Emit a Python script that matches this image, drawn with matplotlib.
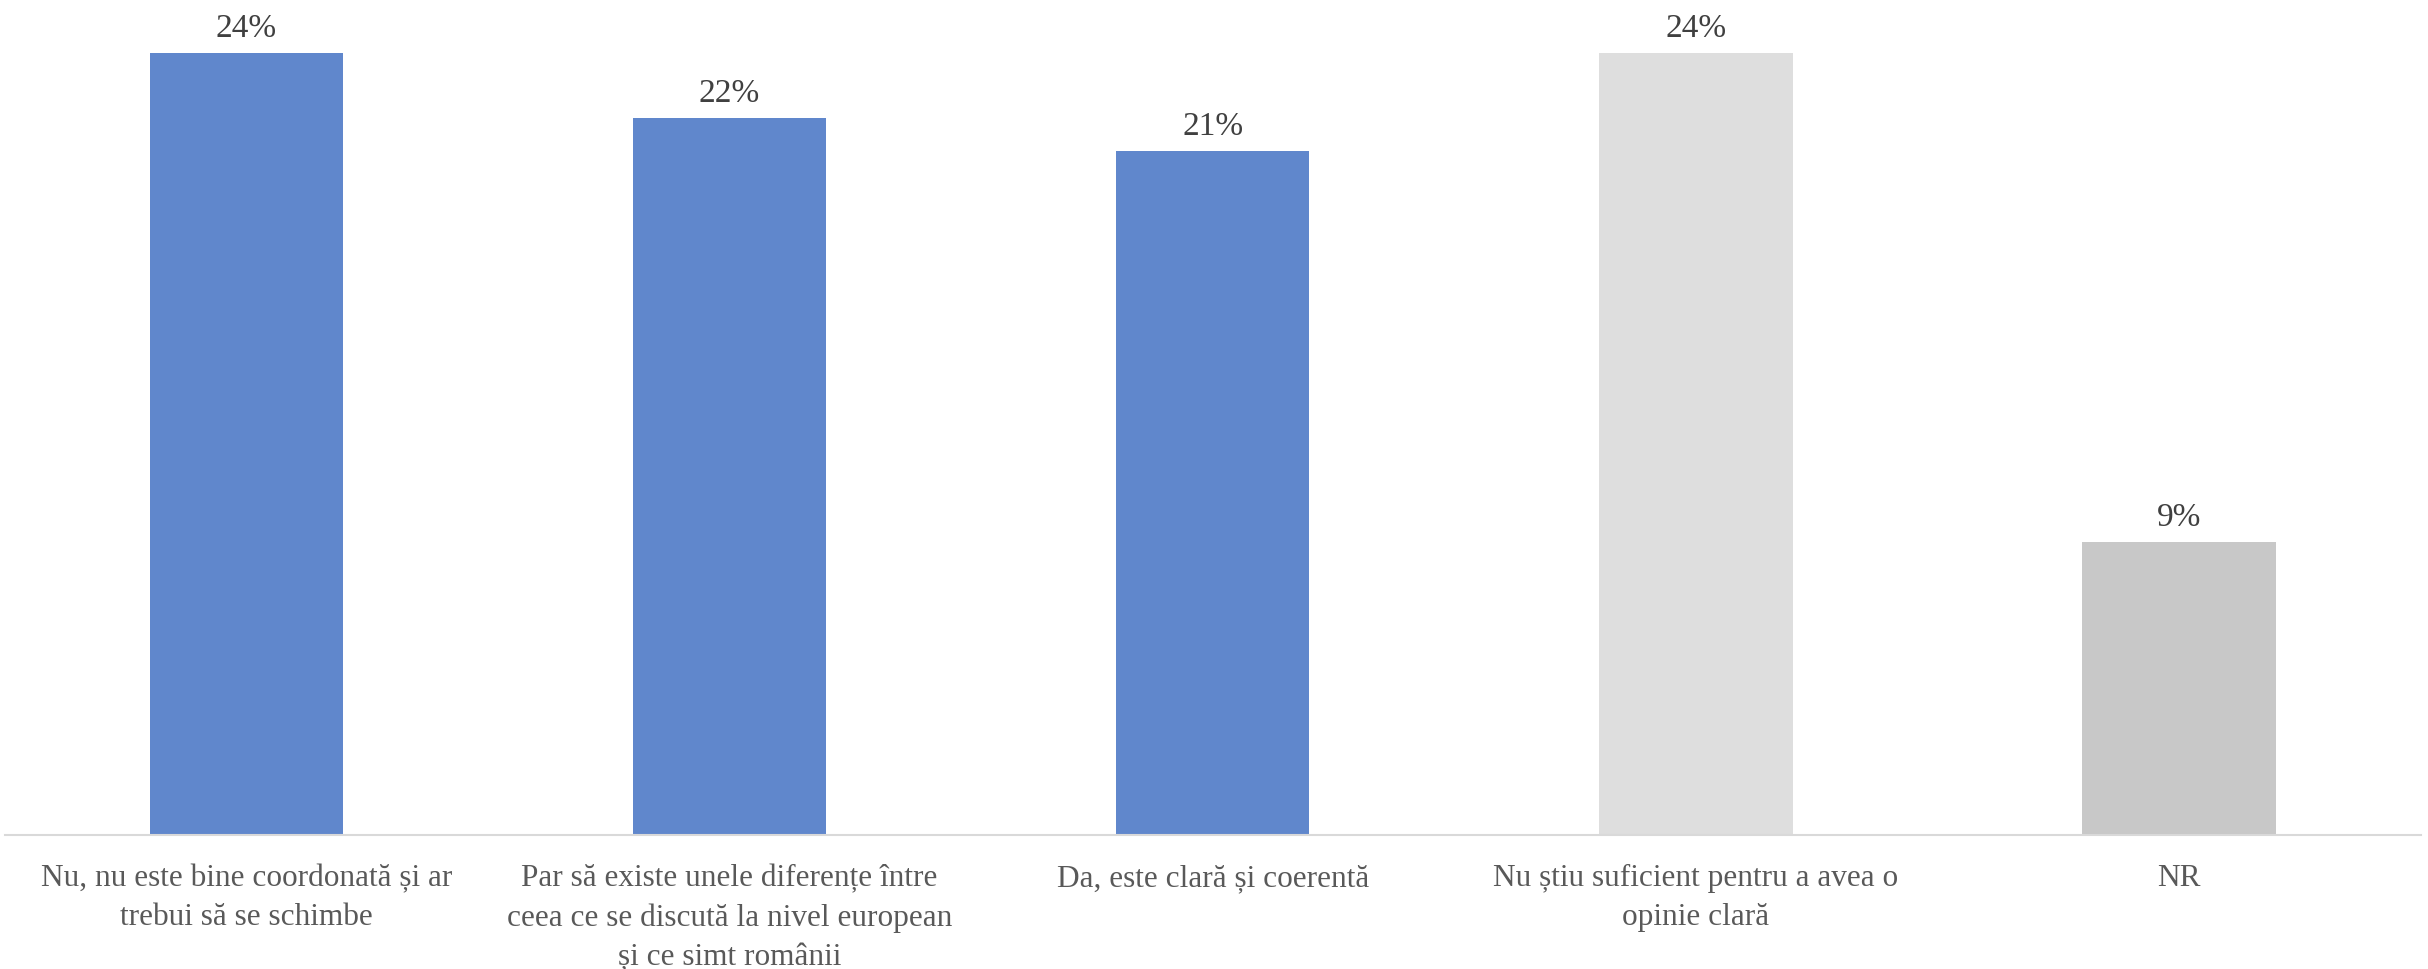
import matplotlib.pyplot as plt

# answer categories (already wrapped as in the source chart)
categories = [
    "Nu, nu este bine coordonată și ar\ntrebui să se schimbe",
    "Par să existe unele diferențe între\nceea ce se discută la nivel european\nși ce simt românii",
    "Da, este clară și coerentă",
    "Nu știu suficient pentru a avea o\nopinie clară",
    "NR",
]
values = [24, 22, 21, 24, 9]
colors = ["#6087CC", "#6087CC", "#6087CC", "#DEDEDE", "#C8C8C8"]

plt.rcParams["font.family"] = ["Liberation Serif", "DejaVu Serif"]

fig = plt.figure(figsize=(24.28, 9.7), dpi=100)
ax = fig.add_axes([0.002, 0.138, 0.995, 0.84])

x = range(len(values))
bars = ax.bar(x, [v / 100 for v in values], width=0.4, color=colors)

for b, v in zip(bars, values):
    ax.annotate(f"{v}%", (b.get_x() + b.get_width() / 2, b.get_height()),
                xytext=(0, 7), textcoords="offset points",
                ha="center", va="bottom", fontsize=24, color="#404040")

ax.set_xlim(-0.5, len(values) - 0.5)
ax.set_ylim(0, 0.25)
ax.set_xticks(list(x))
ax.set_xticklabels(categories, fontsize=22.5, color="#595959", linespacing=1.45)
ax.tick_params(axis="x", length=0, pad=20)
ax.set_yticks([])

for s in ["top", "right", "left"]:
    ax.spines[s].set_visible(False)
ax.spines["bottom"].set_color("#D9D9D9")
ax.spines["bottom"].set_linewidth(1.5)

fig.savefig("out.png", dpi=100)
